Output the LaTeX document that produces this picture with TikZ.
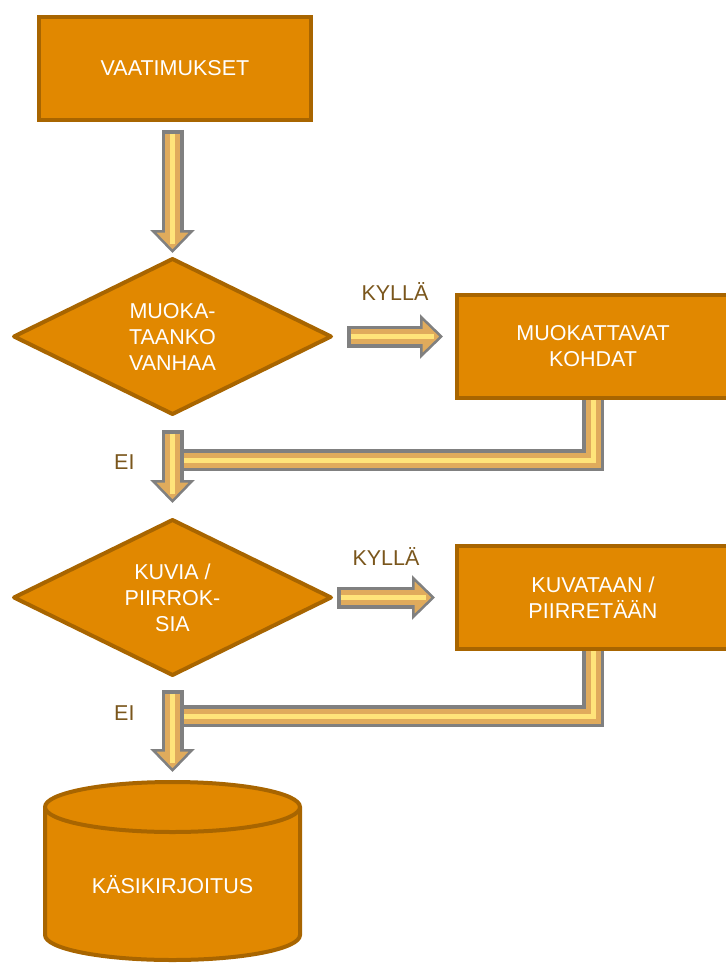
\documentclass[tikz,border=0pt]{standalone}
\usepackage{fontspec}
\setmainfont{Liberation Sans}
\usetikzlibrary{arrows.meta,positioning,shapes.geometric,calc}
\definecolor{orfill}{RGB}{225,136,0}
\definecolor{ordraw}{RGB}{168,101,0}
\definecolor{ortop}{RGB}{236,181,98}
\definecolor{argray}{RGB}{128,128,128}
\definecolor{artan}{RGB}{224,171,92}
\definecolor{aryel}{RGB}{255,228,122}
\definecolor{lbltxt}{RGB}{122,86,28}
\tikzset{
  org/.style={draw=ordraw,fill=orfill,line width=4pt,text=white,align=center,
              font=\fontsize{21.5}{26}\selectfont,inner sep=0pt,outer sep=0pt,
              minimum width=272pt,minimum height=103pt},
  dec/.style={org,diamond,aspect=2,line join=round,
              minimum width=317pt,minimum height=155pt},
  db/.style ={org,cylinder,shape border rotate=90,aspect=0.31,
              cylinder uses custom fill,cylinder body fill=orfill,
              cylinder end fill=ortop,minimum width=255pt,minimum height=178pt},
  ar/.style ={draw=argray,line width=22pt,
              -{Triangle[length=23pt,width=44pt,fill=artan,line width=2.5pt]},
              postaction={draw=artan,line width=15pt,arrows=-,
                          shorten <=3.5pt,shorten >=12pt},
              postaction={draw=aryel,line width=5pt,arrows=-,
                          shorten <=3.5pt,shorten >=9pt}},
  br/.style ={draw=argray,line width=22pt,
              postaction={draw=artan,line width=15pt},
              postaction={draw=aryel,line width=5pt}},
  lbl/.style={font=\fontsize{21.5}{26}\selectfont,text=lbltxt,
              inner sep=0pt,outer sep=0pt},
}
\begin{document}
\begin{tikzpicture}[x=1pt,y=-1pt]
  \useasboundingbox (0,0) rectangle (725,963);
  \node[org] (req) at (175,68.5) {VAATIMUKSET};
  \node[dec] (muok) [below=139pt of req,xshift=-2.5pt] {MUOKA-\\TAANKO\\VANHAA};
  \node[org] (kohd) [right=126pt of muok,yshift=-10pt] {MUOKATTAVAT\\KOHDAT};
  \node[dec] (kuv)  [below=106pt of muok] {KUVIA /\\PIIRROK-\\SIA};
  \node[org] (piir) [right=126pt of kuv] {KUVATAAN /\\PIIRRETÄÄN};
  \node[db]  (kasi) [below=107pt of kuv,anchor=top] {KÄSIKIRJOITUS};
  \coordinate (j1) at ([yshift=-46pt]muok.south);
  \coordinate (j2) at ([yshift=-41pt]kuv.south);
  \draw[br] ([yshift=-2pt]kohd.south) |- (j1);
  \draw[br] ([yshift=-2pt]piir.south) |- (j2);
  \draw[ar] ($(muok.north |- req.south)+(0,10)$) -- ([yshift=6pt]muok.north);
  \draw[ar] ([xshift=16pt]muok.east) -- ([xshift=-14pt]muok.east -| kohd.west)
    node[lbl,midway,above=36pt]{KYLLÄ};
  \draw[ar] ([yshift=-16pt]muok.south) -- ([yshift=17pt]kuv.north)
    node[lbl,pos=0.44,left=38pt]{EI};
  \draw[ar] ([xshift=6pt]kuv.east) -- ([xshift=-22pt]kuv.east -| piir.west)
    node[lbl,midway,above=32.5pt]{KYLLÄ};
  \draw[ar] ([yshift=-15pt]kuv.south) -- ([yshift=10pt]kasi.top)
    node[lbl,pos=0.28,left=38pt]{EI};
\end{tikzpicture}
\end{document}
